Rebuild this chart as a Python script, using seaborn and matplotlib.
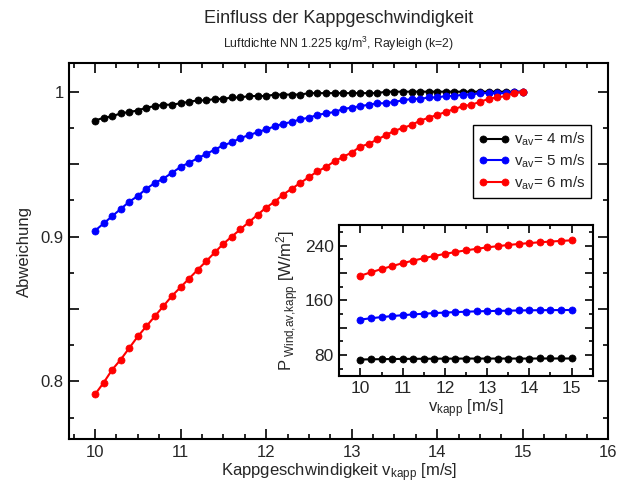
import pandas as pd
import matplotlib
matplotlib.use('Agg')
import matplotlib.pyplot as plt
from matplotlib.ticker import FixedLocator, MultipleLocator, FuncFormatter
import seaborn as sns

# Kappgeschwindigkeit (Hauptdiagramm, Schritt 0.1 m/s)
v_kapp = [10.0, 10.1, 10.2, 10.3, 10.4, 10.5, 10.6, 10.7, 10.8, 10.9,
          11.0, 11.1, 11.2, 11.3, 11.4, 11.5, 11.6, 11.7, 11.8, 11.9,
          12.0, 12.1, 12.2, 12.3, 12.4, 12.5, 12.6, 12.7, 12.8, 12.9,
          13.0, 13.1, 13.2, 13.3, 13.4, 13.5, 13.6, 13.7, 13.8, 13.9,
          14.0, 14.1, 14.2, 14.3, 14.4, 14.5, 14.6, 14.7, 14.8, 14.9, 15.0]

# Abweichung fuer v_av = 4, 5, 6 m/s
abw_4 = [.980, .982, .983, .985, .986, .987, .989, .990, .991, .991,
         .992, .993, .994, .994, .995, .995, .996, .996, .997, .997,
         .997, .998, .998, .998, .998, .999, .999, .999, .999, .999,
         .999, .999, .999, .999, 1, 1, 1, 1, 1, 1,
         1, 1, 1, 1, 1, 1, 1, 1, 1, 1, 1]
abw_5 = [.904, .909, .914, .919, .924, .928, .933, .937, .940, .944,
         .948, .951, .954, .957, .960, .963, .965, .968, .970, .972,
         .974, .976, .978, .979, .981, .982, .984, .985, .986, .988,
         .989, .990, .991, .992, .992, .993, .994, .995, .995, .996,
         .996, .997, .997, .998, .998, .999, .999, .999, .999, 1, 1]
abw_6 = [.791, .799, .808, .815, .823, .831, .838, .845, .852, .859,
         .865, .871, .877, .883, .889, .895, .900, .905, .910, .915,
         .920, .924, .929, .933, .937, .941, .945, .948, .952, .955,
         .958, .962, .964, .967, .970, .973, .975, .977, .980, .982,
         .984, .986, .988, .990, .991, .993, .995, .996, .997, .999, 1]

# Inset: Leistungsdichte (Schritt 0.25 m/s)
v_inset = [10.0, 10.25, 10.5, 10.75, 11.0, 11.25, 11.5, 11.75, 12.0, 12.25,
           12.5, 12.75, 13.0, 13.25, 13.5, 13.75, 14.0, 14.25, 14.5, 14.75, 15.0]
p_4 = [73.4, 73.7, 73.9, 74.1, 74.3, 74.4, 74.5, 74.6, 74.7, 74.7,
       74.8, 74.8, 74.8, 74.8, 74.8, 74.8, 74.8, 74.9, 74.9, 74.9, 74.9]
p_5 = [131.8, 133.7, 135.4, 136.9, 138.2, 139.3, 140.4, 141.3, 142.0, 142.7,
       143.3, 143.8, 144.2, 144.5, 144.8, 145.1, 145.3, 145.5, 145.6, 145.7, 145.8]
p_6 = [195.9, 200.9, 205.6, 210.0, 214.2, 218.0, 221.5, 224.8, 227.8, 230.5,
       233.0, 235.2, 237.3, 239.1, 240.8, 242.3, 243.6, 244.8, 245.8, 246.8, 247.6]

labels = [r'v$_{\mathrm{av}}$= 4 m/s', r'v$_{\mathrm{av}}$= 5 m/s', r'v$_{\mathrm{av}}$= 6 m/s']
colors = ['#000000', '#0000ff', '#ff0000']

df_main = pd.DataFrame({'v': v_kapp * 3, 'abw': abw_4 + abw_5 + abw_6,
                        'serie': [labels[0]] * 51 + [labels[1]] * 51 + [labels[2]] * 51})
df_inset = pd.DataFrame({'v': v_inset * 3, 'p': p_4 + p_5 + p_6,
                         'serie': [labels[0]] * 21 + [labels[1]] * 21 + [labels[2]] * 21})

sns.set_style('ticks')
plt.rcParams['font.family'] = ['Liberation Sans', 'DejaVu Sans']
plt.rcParams['mathtext.fontset'] = 'custom'
plt.rcParams['mathtext.rm'] = 'Liberation Sans'
plt.rcParams['mathtext.it'] = 'Liberation Sans:italic'
plt.rcParams['axes.linewidth'] = 1.5


def style_axes(ax, size):
    for s in ax.spines.values():
        s.set_color('black')
        s.set_linewidth(1.5)
    ax.tick_params(which='both', direction='in', top=True, right=True,
                   color='black', width=1.2, labelsize=size, pad=4)
    ax.tick_params(which='major', length=7.5)
    ax.tick_params(which='minor', length=3.5)


fig = plt.figure(figsize=(6.28, 4.88), dpi=100)
ax = fig.add_axes([0.1104, 0.0998, 0.8583, 0.7717])

for i, lab in enumerate(labels):
    sns.lineplot(data=df_main[df_main['serie'] == lab], x='v', y='abw', ax=ax,
                 color=colors[i], marker='o', markersize=5.1, linewidth=1.5,
                 markeredgecolor=colors[i], markeredgewidth=0.5, label=lab)

ax.set_xlim(9.7, 16)
ax.set_ylim(0.76, 1.02)
ax.xaxis.set_major_locator(MultipleLocator(1))
ax.xaxis.set_minor_locator(MultipleLocator(0.25))
ax.yaxis.set_major_locator(FixedLocator([0.8, 0.85, 0.9, 0.95, 1.0]))
ax.yaxis.set_minor_locator(MultipleLocator(0.025))
ax.yaxis.set_major_formatter(FuncFormatter(
    lambda y, p: {0.8: '0.8', 0.9: '0.9', 1.0: '1'}.get(round(y, 2), '')))
style_axes(ax, 12)
ax.set_xlabel(r'Kappgeschwindigkeit v$_{\mathrm{kapp}}$ [m/s]', fontsize=12, labelpad=1)
ax.set_ylabel('Abweichung', fontsize=12, labelpad=6)

leg = ax.legend(loc='upper left', bbox_to_anchor=(0.749, 0.834), borderaxespad=0,
                fontsize=11, numpoints=2, handlelength=2.0, handletextpad=0.3,
                labelspacing=0.28, borderpad=0.38, fancybox=False, framealpha=1)
leg.get_frame().set_edgecolor('black')
leg.get_frame().set_linewidth(1.0)

fig.text(0.5395, 0.962, 'Einfluss der Kappgeschwindigkeit', ha='center', va='center', fontsize=13)
fig.text(0.5395, 0.911, r'Luftdichte NN 1.225 kg/m$^{3}$, Rayleigh (k=2)', ha='center',
         va='center', fontsize=8.8)

# Inset
axi = fig.add_axes([0.5403, 0.2305, 0.4035, 0.3084])
for i, lab in enumerate(labels):
    sns.lineplot(data=df_inset[df_inset['serie'] == lab], x='v', y='p', ax=axi,
                 color=colors[i], marker='o', markersize=5.1, linewidth=1.5,
                 markeredgecolor=colors[i], markeredgewidth=0.5, legend=False)
axi.set_xlim(9.5, 15.5)
axi.set_ylim(50, 270)
axi.xaxis.set_major_locator(MultipleLocator(1))
axi.xaxis.set_minor_locator(MultipleLocator(0.5))
axi.yaxis.set_major_locator(MultipleLocator(40))
axi.yaxis.set_minor_locator(MultipleLocator(20))
axi.yaxis.set_major_formatter(FuncFormatter(lambda y, p: '%d' % y if y % 80 == 0 else ''))
style_axes(axi, 12.5)
axi.tick_params(which='major', length=5.5)
axi.tick_params(which='minor', length=3)
axi.set_xlabel(r'v$_{\mathrm{kapp}}$ [m/s]', fontsize=12, labelpad=1)
axi.set_ylabel(r'P$_{\ \mathrm{Wind{,}av{,}kapp}}$ [W/m$^{2}$]', fontsize=12, labelpad=3)

fig.savefig('out.png', dpi=100)
